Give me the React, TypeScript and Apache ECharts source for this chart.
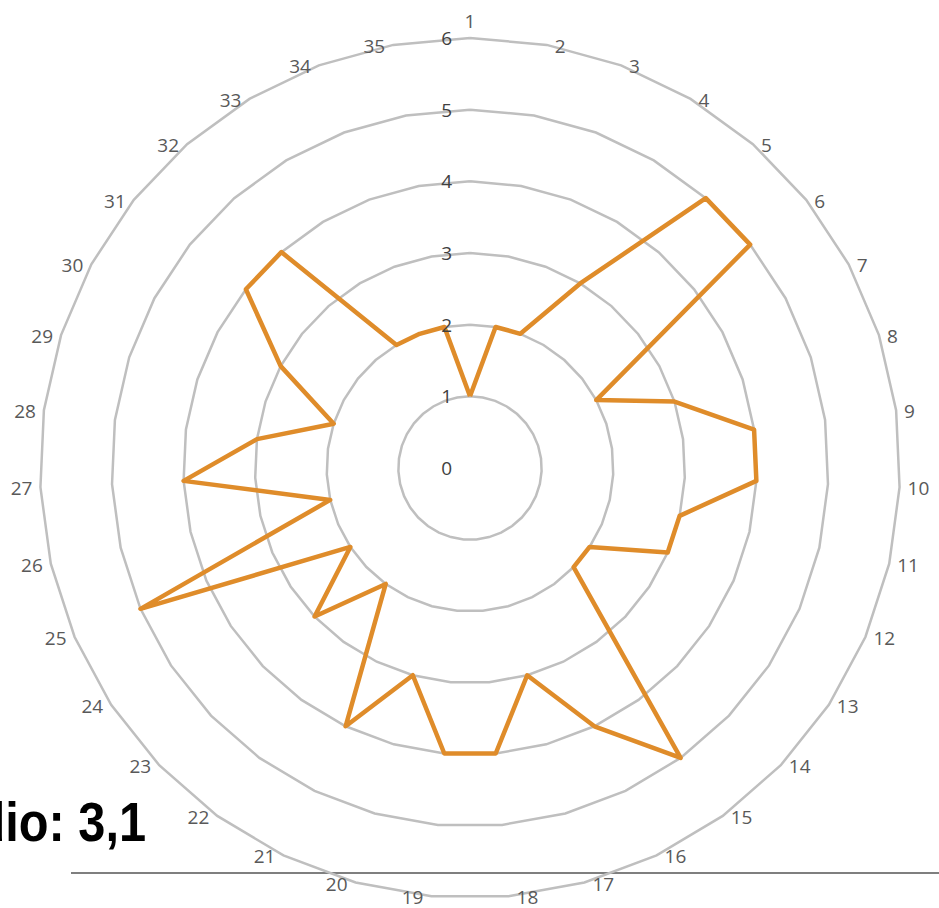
import React, { useEffect, useRef } from "react";
import * as echarts from "echarts";

const categories: string[] = Array.from({ length: 35 }, (_, i) => String(i + 1));
const values: number[] = [
  1, 2, 2, 3, 5, 5, 2, 3, 4, 4,
  3, 3, 2, 2, 5, 4, 3, 4, 4, 3,
  4, 2, 3, 2, 5, 2, 4, 3, 2, 3,
  4, 4, 2, 2, 2,
];
const scaleMax = 6;
const titlePrefix = "Promedio: ";

export default function App() {
  const ref = useRef<HTMLDivElement>(null);
  useEffect(() => {
    if (!ref.current) return;
    const chart = echarts.init(ref.current, undefined, { renderer: "svg" });
    const n = categories.length;
    // ECharts radar runs counter-clockwise; reverse to get clockwise order from the top
    const order = [0, ...Array.from({ length: n - 1 }, (_, i) => n - 1 - i)];
    const avg = values.reduce((a, b) => a + b, 0) / values.length;
    const avgText = titlePrefix + avg.toFixed(1).replace(".", ",");
    const font = "'Open Sans', 'Noto Sans', sans-serif";

    // Excel-like label placement: labels sit beside the vertex horizontally
    const rich: Record<string, any> = {};
    categories.forEach((_, k) => {
      const base = { color: "#595959", fontSize: 19, fontFamily: font };
      if (k === 0) {
        rich["p" + k] = { ...base, padding: [0, 0, 8, 0] };
      } else if (k < n / 2) {
        rich["p" + k] = { ...base, padding: [2, 0, 0, 8] };
      } else {
        rich["p" + k] = { ...base, padding: [2, 8, 0, 0] };
      }
    });

    chart.setOption({
      animation: false,
      backgroundColor: "#ffffff",
      radar: {
        center: [470, 468],
        radius: 430,
        startAngle: 90,
        shape: "polygon",
        splitNumber: 6,
        nameGap: 0,
        indicator: order.map((i) => ({ name: categories[i], min: 0, max: scaleMax })),
        axisName: {
          color: "#595959",
          fontSize: 19,
          fontFamily: font,
          formatter: (name: string) => `{p${categories.indexOf(name)}|${name}}`,
          rich,
        },
        splitLine: { lineStyle: { color: "#BFBFBF", width: 2.5 } },
        splitArea: { show: false },
        axisLine: { show: false },
        axisTick: { show: false },
        axisLabel: { show: false },
      },
      polar: { center: [470, 468], radius: 430 },
      angleAxis: { type: "value", min: 0, max: 360, show: false },
      radiusAxis: {
        type: "value",
        min: 0,
        max: scaleMax,
        interval: 1,
        axisLine: { show: false },
        axisTick: { show: false },
        splitLine: { show: false },
        axisLabel: { color: "#404040", fontSize: 19, fontFamily: font, margin: 18 },
        z: 10,
      },
      series: [
        {
          type: "radar",
          symbol: "none",
          lineStyle: { color: "#DF8C2A", width: 4.5 },
          itemStyle: { color: "#DF8C2A" },
          data: [{ value: order.map((i) => values[i]) }],
        },
      ],
      graphic: [
        {
          type: "text",
          x: 146,
          y: 849,
          scaleX: 0.87,
          style: {
            text: avgText,
            align: "right",
            verticalAlign: "bottom",
            font: "bold 56px 'Liberation Sans', Arial, sans-serif",
            fill: "#000000",
          },
        },
        {
          type: "line",
          shape: { x1: 71, y1: 873, x2: 939, y2: 873 },
          style: { stroke: "#7F7F7F", lineWidth: 2 },
        },
      ],
    });
    return () => chart.dispose();
  }, []);
  return (
    <div
      ref={ref}
      style={{ position: "fixed", left: 0, top: 0, width: 939, height: 908, background: "#fff" }}
    />
  );
}
